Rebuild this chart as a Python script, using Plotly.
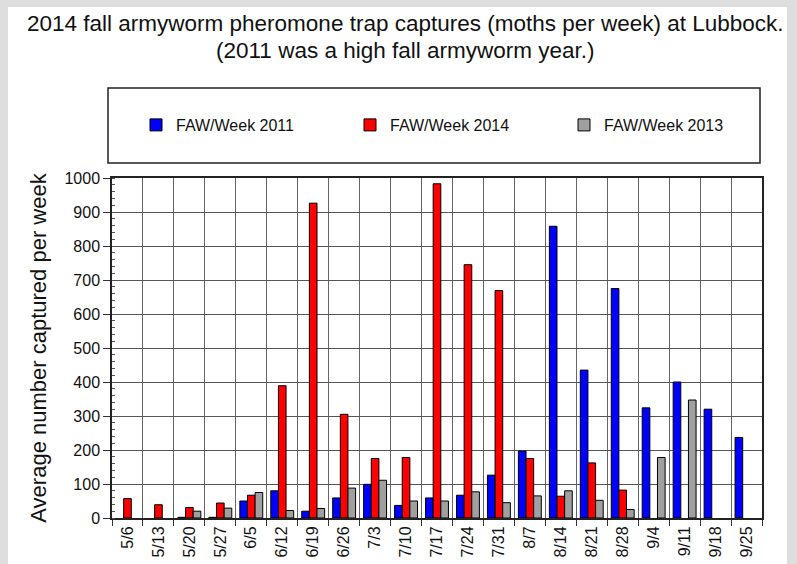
import plotly.graph_objects as go

weeks = ["5/6", "5/13", "5/20", "5/27", "6/5", "6/12", "6/19", "6/26", "7/3", "7/10", "7/17",
         "7/24", "7/31", "8/7", "8/14", "8/21", "8/28", "9/4", "9/11", "9/18", "9/25"]
faw_2011 = [None, None, 2, 2, 50, 80, 20, 59, 99, 37, 59, 67, 126, 197, 858, 435, 675, 324, 400, 320, 237]
faw_2014 = [57, 39, 31, 44, 67, 389, 926, 305, 175, 178, 983, 745, 669, 175, 64, 162, 82, None, None, None, None]
faw_2013 = [None, None, 20, 29, 75, 22, 28, 88, 111, 50, 50, 77, 45, 65, 80, 52, 25, 178, 347, None, None]

series = [("FAW/Week 2011", faw_2011, "#0000ff"),
          ("FAW/Week 2014", faw_2014, "#ff0000"),
          ("FAW/Week 2013", faw_2013, "#a0a0a0")]

title_1 = "2014 fall armyworm pheromone trap captures (moths per week) at Lubbock."
title_2 = "(2011 was a high fall armyworm year.)"

fig = go.Figure()
for name, vals, col in series:
    fig.add_trace(go.Bar(x=weeks, y=vals, name=name,
                         marker=dict(color=col, line=dict(color="#000000", width=1))))

L, R, T, B = 112, 762, 178, 518
W, H = 797, 564
def px(x):
    return (x - L) / (R - L)
def py(y):
    return (B - y) / (B - T)

shapes = [
    dict(type="rect", xref="paper", yref="paper", x0=px(8), x1=px(787), y0=py(H + 5), y1=py(7),
         fillcolor="white", line=dict(width=0), layer="below"),
    dict(type="rect", xref="paper", yref="paper", x0=px(108), x1=px(760), y0=py(163), y1=py(88),
         fillcolor="rgba(0,0,0,0)", line=dict(color="#222222", width=1.5)),
]

annotations = [
    dict(text=title_1, xref="paper", yref="paper", x=px(405), y=py(23), xanchor="center",
         yanchor="middle", showarrow=False, font=dict(size=22.5, color="#111111")),
    dict(text=title_2, xref="paper", yref="paper", x=px(405), y=py(50), xanchor="center",
         yanchor="middle", showarrow=False, font=dict(size=22.5, color="#111111")),
]

fig.update_layout(
    width=W, height=H,
    margin=dict(l=L, r=W - R, t=T, b=H - B, autoexpand=False),
    paper_bgcolor="#dedede",
    plot_bgcolor="white",
    font=dict(family="Liberation Sans, Arial, sans-serif", color="#111111", size=15),
    barmode="group", bargap=0.26, bargroupgap=0.0,
    showlegend=True,
    legend=dict(orientation="h", x=px(136), xanchor="left", y=py(125), yanchor="middle",
                entrywidth=169, bgcolor="rgba(0,0,0,0)", borderwidth=0,
                font=dict(size=16, color="#111111"), traceorder="normal"),
    shapes=shapes,
    annotations=annotations,
    xaxis=dict(type="category", tickson="boundaries", ticks="outside", ticklen=6,
               tickcolor="#333333", tickangle=-90, showgrid=True, gridcolor="#666666",
               gridwidth=1, showline=True, linecolor="#222222", linewidth=2, mirror=True,
               tickfont=dict(size=16), range=[-0.5, len(weeks) - 0.5]),
    yaxis=dict(range=[0, 1000], dtick=100, tick0=0, ticks="outside", ticklen=7,
               tickcolor="#333333", showgrid=True, gridcolor="#555555", gridwidth=1,
               showline=True, linecolor="#222222", linewidth=1.5, mirror=True,
               zeroline=False, tickfont=dict(size=16),
               minor=dict(dtick=20, ticks="inside", ticklen=3, tickcolor="#555555", showgrid=False),
               title=dict(text="Average number captured per week", font=dict(size=22), standoff=12)),
)

fig.write_html("out.html", config={"displayModeBar": False},
               post_script="document.body.style.margin='0px';")
